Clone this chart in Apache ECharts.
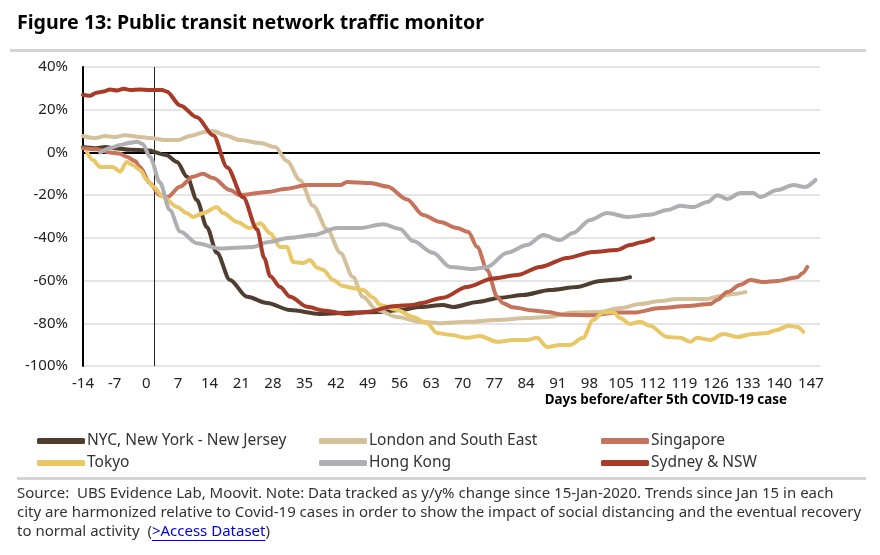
<!DOCTYPE html>
<html>
<head>
<meta charset="utf-8">
<script src="https://cdn.jsdelivr.net/npm/echarts@6/dist/echarts.min.js"></script>
<style>
html,body{margin:0;padding:0;background:#fff;}
#chart{width:880px;height:555px;}
</style>
</head>
<body>
<div id="chart"></div>
<script>
// days before/after 5th case, y/y % change
var seriesNames = ['NYC, New York - New Jersey', 'London and South East', 'Singapore', 'Tokyo', 'Hong Kong', 'Sydney & NSW'];
var seriesColors = ['#4f3d30', '#d5c09c', '#c5735b', '#e9c767', '#afafb3', '#a83b28'];

var nyc = [[-14,2.5],[-11.5,2],[-9,2.5],[-7,2],[-3.5,1.2],[0.2,1],[4.4,-1.2],[6.8,-4.5],[9,-11.4],[11.2,-22.3],[13.4,-35],[15.6,-47],[18.5,-59.7],[22.3,-67.6],[26.7,-70.5],[31.8,-73.8],[38.4,-75.6],[45.7,-75],[51.7,-74.7],[56.1,-73.8],[60.6,-72.4],[65.6,-71.4],[67.9,-72.4],[73.2,-70],[78.3,-68],[83.3,-66.8],[89.3,-64.4],[95.3,-63],[100.4,-60.2],[104,-59.5],[107,-58.4]];

var london = [[-14,7.7],[-11.3,6.7],[-9.1,7.7],[-6.9,7.2],[-4.7,8.1],[-1.4,7.2],[0.8,6.7],[4.1,5.8],[7,5.8],[9.7,7.7],[13,9.6],[14.8,10],[17.4,8.1],[20.7,5.8],[25.2,4.4],[28.5,2.5],[31.1,-4],[34,-13],[36.9,-25],[40,-36],[42.9,-47],[45.7,-58.3],[47.9,-67.6],[51,-73.8],[55.5,-77],[60.6,-79.3],[65,-80],[70.9,-79.3],[77.6,-78.5],[84.2,-77.5],[88.7,-77],[94.4,-75],[100.4,-74.7],[104.8,-72.9],[109.2,-71],[113.7,-69.6],[117.4,-68.6],[121,-68.6],[124.1,-68.6],[126.9,-67.2],[129.8,-66.3],[132.5,-65.4]];

var singapore = [[-14,2],[-11,1.5],[-8,0],[-6,-0.5],[-4.3,-2],[-2.5,-4],[-1.4,-6.8],[0.8,-14.4],[3,-20],[4.6,-21],[7.5,-16],[10.3,-11.4],[12.5,-10],[14.8,-12],[18.5,-17.6],[20.7,-20],[26.7,-18.5],[31,-17],[35.6,-15.3],[42.9,-15.3],[44.4,-13.8],[49.5,-14.3],[53.3,-16],[57.7,-22],[61.2,-29.3],[65,-32.6],[68.7,-35.4],[71.2,-37.3],[73.2,-44.3],[75.4,-55],[77.6,-67.6],[78.9,-70.6],[81,-72.5],[85.6,-74],[88.7,-74.7],[92.2,-76],[98.8,-76.2],[104.1,-75],[107.7,-75],[113.7,-72.9],[119.6,-71.9],[124.7,-71],[126.3,-69],[128.5,-65.4],[131.4,-62],[133.6,-59.7],[136.4,-60.7],[139.5,-60.2],[144,-58.4],[145.1,-56.6],[146.2,-53.6]];

var tokyo = [[-13.1,0],[-11.8,-3.6],[-10.2,-6.8],[-7.4,-6.8],[-5.8,-9],[-4.3,-4.5],[-2.9,-6],[-1.4,-8.2],[0.2,-13],[1.5,-16],[3.7,-20.8],[6.8,-25.5],[9,-28.5],[10.3,-30.2],[12.5,-28.5],[15.6,-25.5],[17,-28.4],[20.1,-32.6],[22.9,-35.4],[25.2,-33.2],[27.4,-37.8],[29.6,-44.3],[31.1,-44.3],[32.5,-51.3],[34.7,-51.8],[36.2,-50.4],[37.8,-54],[39.1,-55],[41.3,-59.7],[43.5,-62.5],[45.7,-63.5],[47.9,-64.4],[50.2,-68],[51.7,-71.4],[55.5,-73.8],[59,-77],[62.1,-80],[64.3,-84.5],[67.2,-85.4],[70.9,-86.8],[73.8,-85.9],[77.6,-88.7],[81.1,-87.8],[84.2,-87.8],[86.4,-86.8],[88.7,-91.1],[91.5,-90.2],[93.7,-90.2],[96.6,-86.8],[98.8,-78.5],[101,-75],[103.3,-74.7],[104.8,-77.5],[107,-80.3],[109.2,-79.3],[111.4,-81.2],[115.2,-86.4],[118.1,-86.8],[120.3,-88.7],[121.8,-86.8],[124.7,-87.8],[127.6,-85],[130.7,-86.4],[134.2,-85],[137.3,-84.5],[139.5,-83.1],[142,-81.2],[144,-81.7],[145.3,-84]];

var hongKong = [[-10.2,0],[-8,2],[-5.8,3.5],[-3.6,4.5],[-2.1,5],[-0.8,4],[0.8,-2],[3,-14],[5.2,-27],[7.5,-37],[11.2,-42.5],[16.3,-45],[23.6,-44.3],[26.7,-42],[31.8,-40],[36.9,-38.7],[42.2,-35.4],[47.3,-35.4],[52.4,-33.6],[56.1,-35.8],[59,-41.5],[63.4,-47],[67.2,-53.6],[72.3,-54.6],[75.4,-53.6],[79.8,-47],[84.2,-43.4],[87.8,-38.7],[91.5,-41],[94.4,-37.7],[98.2,-31.6],[101.9,-28.4],[106.4,-30.2],[111.4,-29.2],[115.2,-27],[118.1,-25],[121,-25.6],[124.1,-23.2],[126.3,-20],[128.5,-21.8],[131.4,-19],[134.2,-19],[135.8,-20.9],[139.5,-17.6],[143.1,-15.3],[145.7,-16.2],[148,-12.9]];

var sydney = [[-14,27],[-12.5,26.5],[-11,28],[-9.5,28.5],[-8,29.5],[-6.5,29],[-5,29.8],[-3.5,29.2],[-1.5,29.5],[0.8,29.2],[3.5,29.2],[4.5,28.5],[7.5,22],[11.2,16.5],[14.8,8],[17.9,-7],[21.4,-21],[24.5,-36],[26.1,-49.5],[27.4,-58],[29.6,-63],[31.8,-67.6],[35.6,-72.3],[39.1,-74],[44.4,-75.6],[48.8,-74.7],[54.6,-72],[59,-71.4],[60.6,-70.6],[65.6,-68],[70.9,-63],[76.7,-59],[82,-57.4],[87.1,-53.6],[93.1,-49.4],[98.8,-46.6],[104.1,-45.7],[107,-43.4],[109.5,-42],[112.1,-40.3]];

var allData = [nyc, london, singapore, tokyo, hongKong, sydney];

var titleText = 'Figure 13: Public transit network traffic monitor';
var axisNameText = 'Days before/after 5th COVID-19 case';
var noteLines = [
  'Source:  UBS Evidence Lab, Moovit. Note: Data tracked as y/y% change since 15-Jan-2020. Trends since Jan 15 in each',
  'city are harmonized relative to Covid-19 cases in order to show the impact of social distancing and the eventual recovery',
  'to normal activity  ('
];
var linkText = '>Access Dataset';

var FONT = '"Noto Sans", "Open Sans", sans-serif';
var noteFont = '15px ' + FONT;

// measure text for placing the link piece
var ctx = document.createElement('canvas').getContext('2d');
ctx.font = noteFont;
var prefixW = ctx.measureText(noteLines[2]).width;
var linkW = ctx.measureText(linkText).width;

var myChart = echarts.init(document.getElementById('chart'));

var series = [];
for (var i = 0; i < seriesNames.length; i++) {
  series.push({
    name: seriesNames[i],
    type: 'line',
    data: allData[i],
    showSymbol: false,
    symbol: 'none',
    smooth: 0.3,
    smoothMonotone: 'x',
    color: seriesColors[i],
    lineStyle: { width: 4, color: seriesColors[i], cap: 'round', join: 'round' },
    z: 3
  });
}
// reference lines: zero line and the 5th case line
series[0].markLine = {
  silent: true,
  symbol: 'none',
  z: 1,
  label: { show: false },
  data: [
    { yAxis: 0, lineStyle: { color: '#000', width: 2, type: 'solid' } },
    { xAxis: 1.7, lineStyle: { color: '#222', width: 1, type: 'solid' } }
  ]
};

function legendFor(names, left) {
  return {
    orient: 'vertical',
    left: left,
    top: 428,
    itemWidth: 48,
    itemHeight: 6,
    itemGap: 6,
    icon: 'roundRect',
    data: names,
    textStyle: { fontFamily: FONT, fontSize: 15.5, color: '#333', lineHeight: 16, padding: [0, 0, 0, -3] }
  };
}

var option = {
  animation: false,
  textStyle: { fontFamily: FONT },
  grid: { left: 83, right: 60, top: 67, bottom: 189 },
  xAxis: {
    type: 'value',
    min: -14,
    max: 149,
    interval: 7,
    axisLine: { show: false },
    axisTick: { show: false },
    splitLine: { show: false },
    axisLabel: { fontSize: 15, color: '#222', margin: 10, showMaxLabel: false, fontFamily: FONT }
  },
  yAxis: {
    type: 'value',
    min: -100,
    max: 40,
    interval: 20,
    axisLine: { show: true, onZero: false, lineStyle: { color: '#000', width: 2 } },
    axisTick: { show: false },
    splitLine: { show: true, lineStyle: { color: '#dcdcdc', width: 1.5 } },
    axisLabel: { fontSize: 15, color: '#222', margin: 15, formatter: '{value}%', fontFamily: FONT }
  },
  legend: [
    legendFor([seriesNames[0], seriesNames[3]], 32),
    legendFor([seriesNames[1], seriesNames[4]], 314),
    legendFor([seriesNames[2], seriesNames[5]], 596)
  ],
  graphic: [
    { type: 'text', style: { x: 17, y: 23, text: titleText, font: 'bold 19.6px ' + FONT, fill: '#000', verticalAlign: 'middle' } },
    { type: 'rect', shape: { x: 10, y: 49, width: 856, height: 3 }, style: { fill: '#d4d4d4' } },
    { type: 'text', style: { x: 787, y: 400, text: axisNameText, font: 'bold 13.4px ' + FONT, fill: '#000', align: 'right', verticalAlign: 'middle' } },
    { type: 'rect', shape: { x: 17, y: 477, width: 849, height: 3 }, style: { fill: '#d4d4d4' } },
    { type: 'text', style: { x: 17, y: 494, text: noteLines[0], font: noteFont, fill: '#333', verticalAlign: 'middle' } },
    { type: 'text', style: { x: 17, y: 513, text: noteLines[1], font: noteFont, fill: '#333', verticalAlign: 'middle' } },
    { type: 'text', style: { x: 17, y: 532, text: noteLines[2], font: noteFont, fill: '#333', verticalAlign: 'middle' } },
    { type: 'text', style: { x: 17 + prefixW, y: 532, text: linkText, font: noteFont, fill: '#0000ee', verticalAlign: 'middle' } },
    { type: 'rect', shape: { x: 17 + prefixW, y: 540, width: linkW, height: 1 }, style: { fill: '#0000ee' } },
    { type: 'text', style: { x: 17 + prefixW + linkW, y: 532, text: ')', font: noteFont, fill: '#333', verticalAlign: 'middle' } }
  ],
  series: series
};

myChart.setOption(option);
</script>
</body>
</html>
